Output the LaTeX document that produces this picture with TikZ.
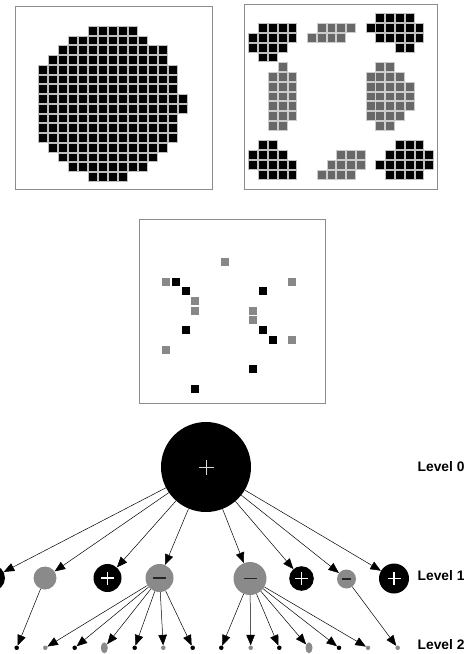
\documentclass[tikz,border=0pt]{standalone}
\usepackage{fontspec}
\setmainfont{Liberation Sans}
\usetikzlibrary{arrows.meta,shapes.geometric}
\definecolor{cellgray}{RGB}{104,104,104}
\definecolor{midgray}{RGB}{136,136,136}
\definecolor{nodegray}{RGB}{138,138,138}
\definecolor{framegray}{RGB}{140,140,140}
\begin{document}
\begin{tikzpicture}[x=1pt,y=-1pt,
  panel/.style={draw=framegray, line width=0.9pt},
  bcell/.style={fill=black, draw=gray!50, line width=0.4pt},
  gcell/.style={fill=cellgray, draw=gray!40, line width=0.4pt},
  mblack/.style={fill=black},
  mgray/.style={fill=midgray},
  bnode/.style={circle, fill=black, inner sep=0pt},
  gnode/.style={circle, fill=nodegray, inner sep=0pt},
  bdot/.style={circle, fill=black, inner sep=0pt, minimum size=4.5pt},
  gdot/.style={circle, fill=nodegray, inner sep=0pt, minimum size=4.5pt},
  gell/.style={ellipse, fill=nodegray, inner sep=0pt, minimum width=7pt, minimum height=11pt},
  edge/.style={draw=black, line width=0.5pt, -{Triangle[length=10.5pt,width=8.5pt]}},
  plussign/.style={draw=white, line width=1.2pt},
  minussign/.style={draw=black!85, line width=1.2pt},
  lvl/.style={anchor=west, inner sep=0pt, font=\fontsize{13.8}{16}\selectfont\bfseries}
]
\useasboundingbox (0,0) rectangle (475,654);

% ---------- top-left panel ----------
\draw[panel] (15,6) rectangle (212,189);
\foreach \r/\a/\b in {0/5/9,1/3/10,2/2/12,3/1/12,4/0/13,5/0/13,6/0/13,7/0/14,8/0/14,9/0/13,10/0/13,11/0/13,12/1/12,13/2/11,14/3/10,15/5/8}
  \foreach \c in {\a,...,\b}
    \draw[bcell] ({38.3+10*\c},{26+9.75*\r}) rectangle ++(9,8.8);

% ---------- top-right panel ----------
\draw[panel] (244,4) rectangle (437,189);
\foreach \r/\a/\b in {1/1/4,2/0/4,3/0/3,4/1/2,0/13/16,1/12/17,2/13/17,3/15/16,13/1/2,14/0/3,15/0/4,16/1/4,13/15/17,14/14/18,15/13/18,16/14/17}
  \foreach \c in {\a,...,\b}
    \draw[bcell] ({248.67+9.77*\c},{13.67+9.77*\r}) rectangle ++(8.8,8.8);
\foreach \r/\a/\b in {1/7/10,2/6/9,5/3/3,6/2/4,7/2/4,8/2/4,9/2/4,10/2/4,11/2/3,5/13/14,6/12/15,7/12/16,8/12/16,9/12/16,10/12/15,11/13/14,14/9/11,15/8/11,16/7/10}
  \foreach \c in {\a,...,\b}
    \draw[gcell] ({248.67+9.77*\c},{13.67+9.77*\r}) rectangle ++(8.8,8.8);

% ---------- middle panel ----------
\draw[panel] (139,219) rectangle (325,403);
\foreach \x/\y in {220.7/258.3,162/277.7,191.3/297,191.3/306.7,162/345.7,288.3/277.7,249.3/306.7,249.3/316.3,288.3/335.7}
  \fill[mgray] (\x,\y) rectangle ++(8,8);
\foreach \x/\y in {171.7/277.7,181.7/287.3,181.7/326,191.3/384.7,259/287.3,259/326,268.7/335.7,249.3/365}
  \fill[mblack] (\x,\y) rectangle ++(8,8);

% ---------- tree ----------
\node[bnode, minimum size=90pt] (L0) at (206,467) {};
\draw[draw=white!85!black, line width=0.8pt] (L0.center) ++(-7.5,0) -- ++(15,0) (L0.center) ++(0,-7.5) -- ++(0,15);

\node[bnode, minimum size=26pt] (a) at (-8,578) {};
\node[gnode, minimum size=23pt] (b) at (45,578) {};
\node[bnode, minimum size=28pt] (c) at (107.5,578) {};
\node[gnode, minimum size=28pt] (d) at (159.5,578) {};
\node[gnode, minimum size=33pt] (e) at (250,578.5) {};
\node[bnode, minimum size=24.6pt] (f) at (301.5,578.5) {};
\node[gnode, minimum size=19pt] (g) at (346.5,579) {};
\node[bnode, minimum size=30pt] (h) at (394,578.5) {};

\foreach \n in {a,c,f,h}
  \draw[plussign] (\n.center) ++(-6.5,0) -- ++(13,0) (\n.center) ++(0,-6.5) -- ++(0,13);
\foreach \n in {d,e}
  \draw[minussign] (\n.center) ++(-6.5,0) -- ++(13,0);
\draw[minussign] (g.center) ++(-4.2,0) -- ++(8.4,0);

\foreach \t in {a,b,c,d,e,f,g,h}
  \draw[edge] (L0) -- (\t);

\foreach \i/\x/\s in {1/16.7/bdot,2/45.3/gdot,3/74.7/bdot,4/104.3/gell,5/134.7/bdot,6/163.3/gdot,7/192.7/bdot,8/221.3/bdot,9/250.7/gdot,10/279.3/bdot,11/309/gell,12/339/bdot,13/368/gdot,14/397.7/gdot}
  \node[\s] (p\i) at (\x,647.8) {};

\draw[edge] (b) -- (p1);
\foreach \i in {2,...,7}
  \draw[edge] (d) -- (p\i);
\foreach \i in {8,...,13}
  \draw[edge] (e) -- (p\i);
\draw[edge] (g) -- (p14);

\node[lvl] (t0) at (417.5,466.8) {Level 0};
\node[lvl] (t1) at (417.5,575.8) {Level 1};
\node[lvl] (t2) at (417.5,644.3) {Level 2};
\end{tikzpicture}
\end{document}
